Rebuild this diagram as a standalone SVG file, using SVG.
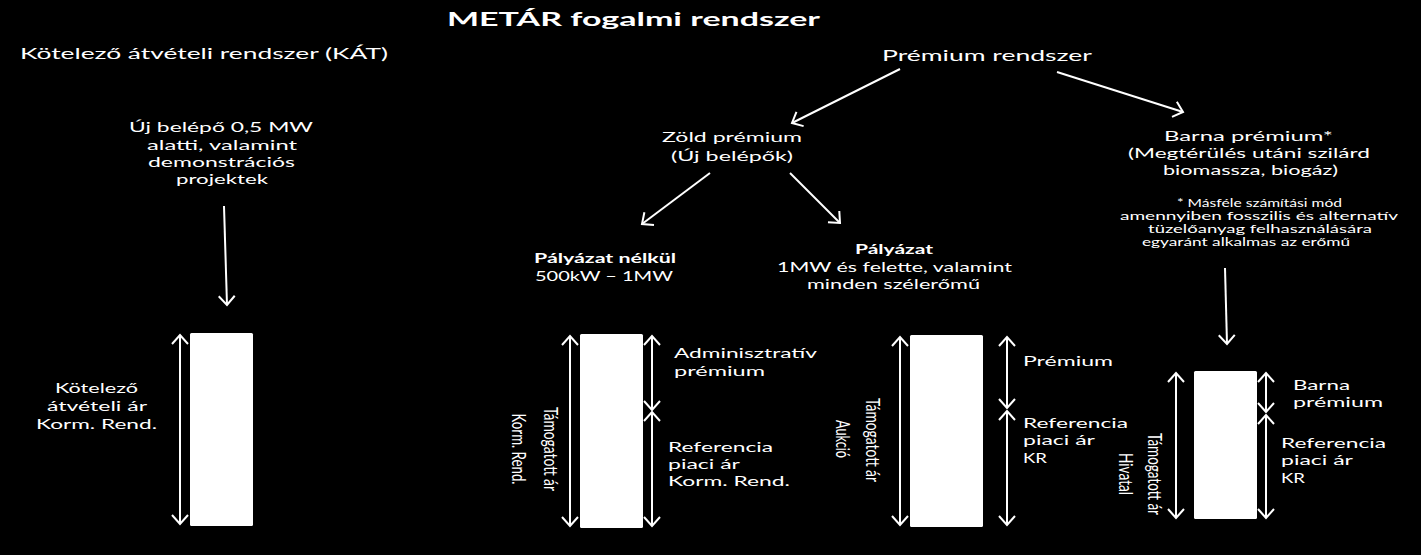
<svg xmlns="http://www.w3.org/2000/svg" width="1421" height="555" viewBox="0 0 1421 555">
<style>
text{fill:#fff;font-family:Lato,"Open Sans",sans-serif;}
.t{font-size:19.5px;font-weight:bold;}
.h{font-size:15.5px;}
.m{font-size:14px;}
.s{font-size:13.5px;}
.b{font-size:13.5px;font-weight:bold;}
.f{font-size:10.5px;}
.r{font-size:20px;}
.ln{stroke:#fff;stroke-width:2;fill:none;}
.ar{marker-end:url(#hd);}
.dd{marker-start:url(#hd);marker-end:url(#hd);}
.bx{fill:#fff;}
</style>
<defs>
<marker id="hd" markerUnits="userSpaceOnUse" markerWidth="24" markerHeight="24" viewBox="-12 -12 24 24" refX="0" refY="0" orient="auto-start-reverse">
<path d="M-9,-8 L0,0 L-9,8" fill="none" stroke="#fff" stroke-width="2"/>
</marker>
</defs>
<rect width="1421" height="555" fill="#000"/>

<g id="title"><text class="t" x="447" y="26" textLength="373" lengthAdjust="spacingAndGlyphs">METÁR fogalmi rendszer</text></g>

<g id="kat"><text class="h" x="20" y="59" textLength="368" lengthAdjust="spacingAndGlyphs">Kötelező átvételi rendszer (KÁT)</text></g>

<g id="uj-belepo">
<text class="m" x="129" y="132" textLength="184" lengthAdjust="spacingAndGlyphs">Új belépő 0,5 MW</text>
<text class="m" x="147" y="149.5" textLength="150" lengthAdjust="spacingAndGlyphs">alatti, valamint</text>
<text class="m" x="148" y="167" textLength="147" lengthAdjust="spacingAndGlyphs">demonstrációs</text>
<text class="m" x="176" y="184" textLength="92" lengthAdjust="spacingAndGlyphs">projektek</text>
</g>

<g id="premium-rendszer"><text class="h" x="882" y="61" textLength="210" lengthAdjust="spacingAndGlyphs">Prémium rendszer</text></g>

<g id="zold-premium">
<text class="m" x="662" y="142" textLength="140" lengthAdjust="spacingAndGlyphs">Zöld prémium</text>
<text class="m" x="671" y="161" textLength="122" lengthAdjust="spacingAndGlyphs">(Új belépők)</text>
</g>

<g id="barna-premium">
<text class="s" x="1164" y="141" textLength="169" lengthAdjust="spacingAndGlyphs">Barna prémium*</text>
<text class="s" x="1128" y="158" textLength="242" lengthAdjust="spacingAndGlyphs">(Megtérülés utáni szilárd</text>
<text class="s" x="1163" y="175" textLength="175" lengthAdjust="spacingAndGlyphs">biomassza, biogáz)</text>
<text class="f" x="1177" y="206.5" textLength="165" lengthAdjust="spacingAndGlyphs">* Másféle számítási mód</text>
<text class="f" x="1120" y="220" textLength="278" lengthAdjust="spacingAndGlyphs">amennyiben fosszilis és alternatív</text>
<text class="f" x="1148" y="233" textLength="224" lengthAdjust="spacingAndGlyphs">tüzelőanyag felhasználására</text>
<text class="f" x="1142" y="246" textLength="208" lengthAdjust="spacingAndGlyphs">egyaránt alkalmas az erőmű</text>
</g>

<g id="palyazat-nelkul">
<text class="b" x="534" y="263" textLength="142" lengthAdjust="spacingAndGlyphs">Pályázat nélkül</text>
<text class="s" x="535" y="281" textLength="138" lengthAdjust="spacingAndGlyphs">500kW – 1MW</text>
</g>

<g id="palyazat">
<text class="b" x="855" y="254" textLength="78" lengthAdjust="spacingAndGlyphs">Pályázat</text>
<text class="s" x="777" y="272" textLength="235" lengthAdjust="spacingAndGlyphs">1MW és felette, valamint</text>
<text class="s" x="807" y="289" textLength="173" lengthAdjust="spacingAndGlyphs">minden szélerőmű</text>
</g>

<g id="bar-kat">
<rect class="bx" x="190" y="333" width="63" height="193" rx="1.5"/>
<line class="ln dd" x1="180" y1="335" x2="180" y2="524"/>
<text class="s" x="55" y="393" textLength="83" lengthAdjust="spacingAndGlyphs">Kötelező</text>
<text class="s" x="47" y="411" textLength="100" lengthAdjust="spacingAndGlyphs">átvételi ár</text>
<text class="s" x="36" y="429" textLength="121" lengthAdjust="spacingAndGlyphs">Korm. Rend.</text>
</g>

<g id="bar-nelkul">
<rect class="bx" x="580" y="334" width="63" height="194" rx="1.5"/>
<line class="ln dd" x1="570" y1="336" x2="570" y2="526"/>
<line class="ln dd" x1="652" y1="336" x2="652" y2="410"/>
<line class="ln dd" x1="652" y1="412" x2="652" y2="526"/>
<text class="r" transform="translate(544,449) rotate(90)" text-anchor="middle" textLength="84" lengthAdjust="spacingAndGlyphs">Támogatott ár</text>
<text class="r" transform="translate(512,449) rotate(90)" text-anchor="middle" textLength="71" lengthAdjust="spacingAndGlyphs">Korm. Rend.</text>
<text class="s" x="674" y="358" textLength="143" lengthAdjust="spacingAndGlyphs">Adminisztratív</text>
<text class="s" x="674" y="376" textLength="91" lengthAdjust="spacingAndGlyphs">prémium</text>
<text class="s" x="668" y="452" textLength="105" lengthAdjust="spacingAndGlyphs">Referencia</text>
<text class="s" x="668" y="468.5" textLength="72" lengthAdjust="spacingAndGlyphs">piaci ár</text>
<text class="s" x="668" y="486" textLength="122" lengthAdjust="spacingAndGlyphs">Korm. Rend.</text>
</g>

<g id="bar-palyazat">
<rect class="bx" x="910" y="335" width="73" height="192" rx="1.5"/>
<line class="ln dd" x1="900" y1="337" x2="900" y2="525"/>
<line class="ln dd" x1="1007" y1="337" x2="1007" y2="408"/>
<line class="ln dd" x1="1007" y1="411" x2="1007" y2="525"/>
<text class="r" transform="translate(866,440) rotate(90)" text-anchor="middle" textLength="84" lengthAdjust="spacingAndGlyphs">Támogatott ár</text>
<text class="r" transform="translate(836,439) rotate(90)" text-anchor="middle" textLength="38" lengthAdjust="spacingAndGlyphs">Aukció</text>
<text class="s" x="1023" y="366" textLength="90" lengthAdjust="spacingAndGlyphs">Prémium</text>
<text class="s" x="1023" y="428" textLength="105" lengthAdjust="spacingAndGlyphs">Referencia</text>
<text class="s" x="1023" y="445" textLength="72" lengthAdjust="spacingAndGlyphs">piaci ár</text>
<text class="s" x="1023" y="463" textLength="24" lengthAdjust="spacingAndGlyphs">KR</text>
</g>

<g id="bar-barna">
<rect class="bx" x="1194" y="371" width="63" height="148" rx="1.5"/>
<line class="ln dd" x1="1176" y1="373" x2="1176" y2="518"/>
<line class="ln dd" x1="1266" y1="373" x2="1266" y2="412"/>
<line class="ln dd" x1="1266" y1="415" x2="1266" y2="518"/>
<text class="r" transform="translate(1148,474) rotate(90)" text-anchor="middle" textLength="82" lengthAdjust="spacingAndGlyphs">Támogatott ár</text>
<text class="r" transform="translate(1119,474) rotate(90)" text-anchor="middle" textLength="42" lengthAdjust="spacingAndGlyphs">Hivatal</text>
<text class="s" x="1293" y="390" textLength="57" lengthAdjust="spacingAndGlyphs">Barna</text>
<text class="s" x="1293" y="407" textLength="90" lengthAdjust="spacingAndGlyphs">prémium</text>
<text class="s" x="1281" y="448" textLength="105" lengthAdjust="spacingAndGlyphs">Referencia</text>
<text class="s" x="1281" y="465" textLength="72" lengthAdjust="spacingAndGlyphs">piaci ár</text>
<text class="s" x="1281" y="483" textLength="24" lengthAdjust="spacingAndGlyphs">KR</text>
</g>

<g id="connectors">
<line class="ln ar" x1="224" y1="206" x2="227" y2="305"/>
<line class="ln ar" x1="900" y1="69" x2="792" y2="123"/>
<line class="ln ar" x1="1057" y1="72" x2="1183" y2="112"/>
<line class="ln ar" x1="710" y1="173" x2="642" y2="224"/>
<line class="ln ar" x1="790" y1="173" x2="840" y2="223"/>
<line class="ln ar" x1="1225" y1="268" x2="1227" y2="344"/>
</g>
</svg>
